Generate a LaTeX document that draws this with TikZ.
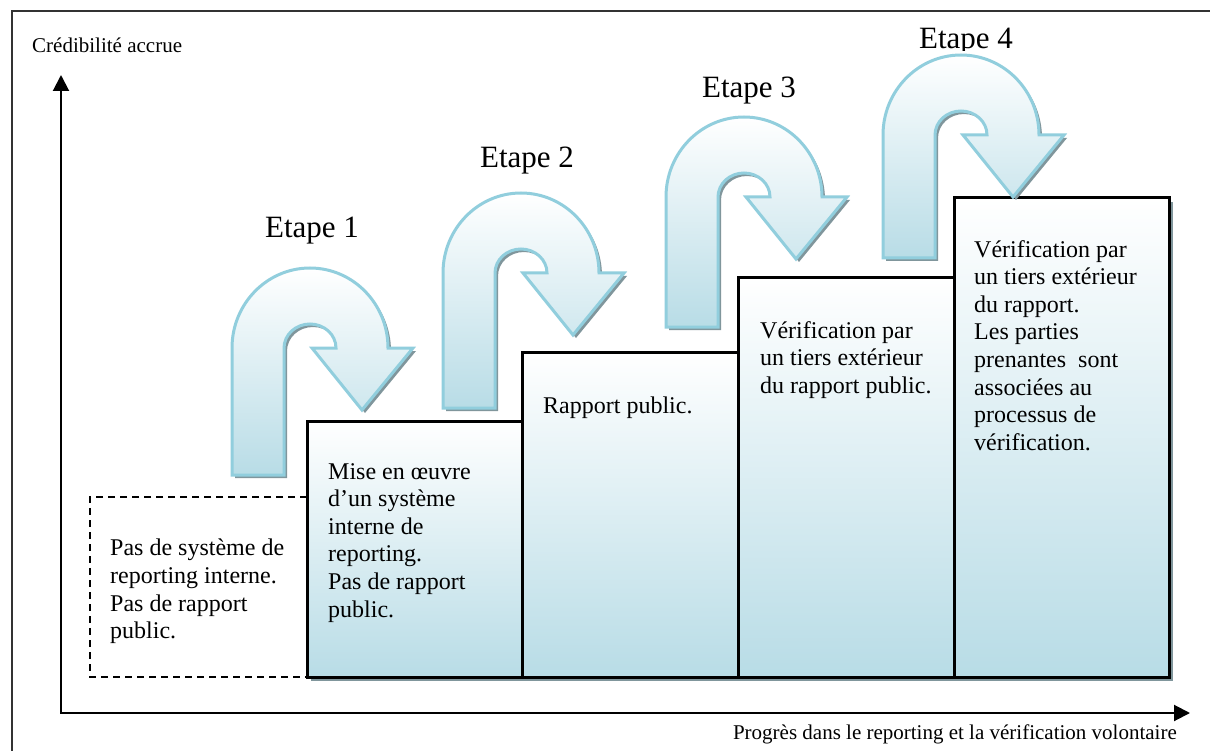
\documentclass[tikz,border=0pt]{standalone}
\usepackage{fontspec}
\setmainfont{Liberation Serif}
\usetikzlibrary{arrows.meta}
\definecolor{stepblue}{RGB}{184,220,230}
\definecolor{arrowline}{RGB}{145,206,221}
\definecolor{shadowgray}{RGB}{128,150,156}
% outline of one turning arrow, centre of the bend at (0,0)
\newcommand\turnpath{(-78,\h) -- (-78,0)
  arc[start angle=180,end angle=360,x radius=78,y radius=80]
  -- (103,0) -- (52,62) -- (2,0) -- (26,0)
  arc[start angle=0,end angle=-180,x radius=26,y radius=24]
  -- (-26,\h) -- cycle}
\begin{document}
\begin{tikzpicture}[x=1pt,y=-1pt,
    stepbox/.style={draw=black,line width=3pt,top color=white,bottom color=stepblue},
    steptext/.style={anchor=north west,align=left,inner sep=0pt,font=\fontsize{24}{27.6}\selectfont},
    turn/.style={draw=arrowline,line width=3pt,top color=white,bottom color=stepblue},
    etape/.style={anchor=base,inner sep=0pt,font=\fontsize{31}{31}\selectfont},
    axislabel/.style={inner sep=0pt,font=\fontsize{21}{21}\selectfont}]
  \path[use as bounding box,fill=white] (0,0) rectangle (1210,751);
  % frame
  \draw[line width=2pt,black!80] (12,760) -- (12,11) -- (1220,11);
  % axes
  \coordinate (origin) at (61,713);
  \coordinate (ytop) at (61,75);
  \coordinate (xend) at (1190,713);
  \draw[line width=2pt,{Triangle[length=16pt,width=16pt]}-{Triangle[length=16pt,width=16pt]}]
    (ytop) -- (origin) -- (xend);
  \node[axislabel,anchor=base west] (ylabel) at (32,53) {Crédibilité accrue};
  \node[axislabel,anchor=base east] (xlabel) at (1177,739) {Progrès dans le reporting et la vérification volontaire};
  % starting point
  \draw[dashed,line width=1.5pt,dash pattern=on 7pt off 5pt] (307,497) -- (90,497) -- (90,677) -- (307,677);
  % steps
  \foreach \x/\top/\w in {307/421/215,522/352/216,738/278/216,954/198/215}{
    \fill[shadowgray] (\x+4,\top+4) rectangle (\x+\w+4,681);
    \draw[stepbox] (\x,\top) rectangle (\x+\w,677);
  }
  \node[steptext] (t0) at (110,539) {Pas de système de\\reporting interne.\\Pas de rapport\\public.};
  \node[steptext] (t1) at (328,463) {Mise en œuvre\\d’un système\\interne de\\reporting.\\Pas de rapport\\public.};
  \node[steptext] (t2) at (543,397) {Rapport public.};
  \node[steptext] (t3) at (760,321) {Vérification par\\un tiers extérieur\\du rapport public.};
  \node[steptext] (t4) at (974,240) {Vérification par\\un tiers extérieur\\du rapport.\\Les parties\\prenantes~ sont\\associées au\\processus de\\vérification.};
  % turning arrows
  \foreach \cx/\cy/\bot in {310/348/475,521/273/408,744/197/327,961/135/258}{
    \pgfmathsetmacro\h{\bot-\cy}
    \scope[shift={(\cx,\cy)}]
    \fill[shadowgray,shift={(3,3)}] \turnpath;
    \path[turn] \turnpath;
    \endscope
  }
  % labels
  \node[etape] (etape1) at (312,238) {Etape 1};
  \node[etape] (etape2) at (527,168) {Etape 2};
  \node[etape] (etape3) at (749,98) {Etape 3};
  \scope
  \clip (850,0) rectangle (1100,51);
  \node[etape] (etape4) at (966,49) {Etape 4};
  \endscope
\end{tikzpicture}
\end{document}
